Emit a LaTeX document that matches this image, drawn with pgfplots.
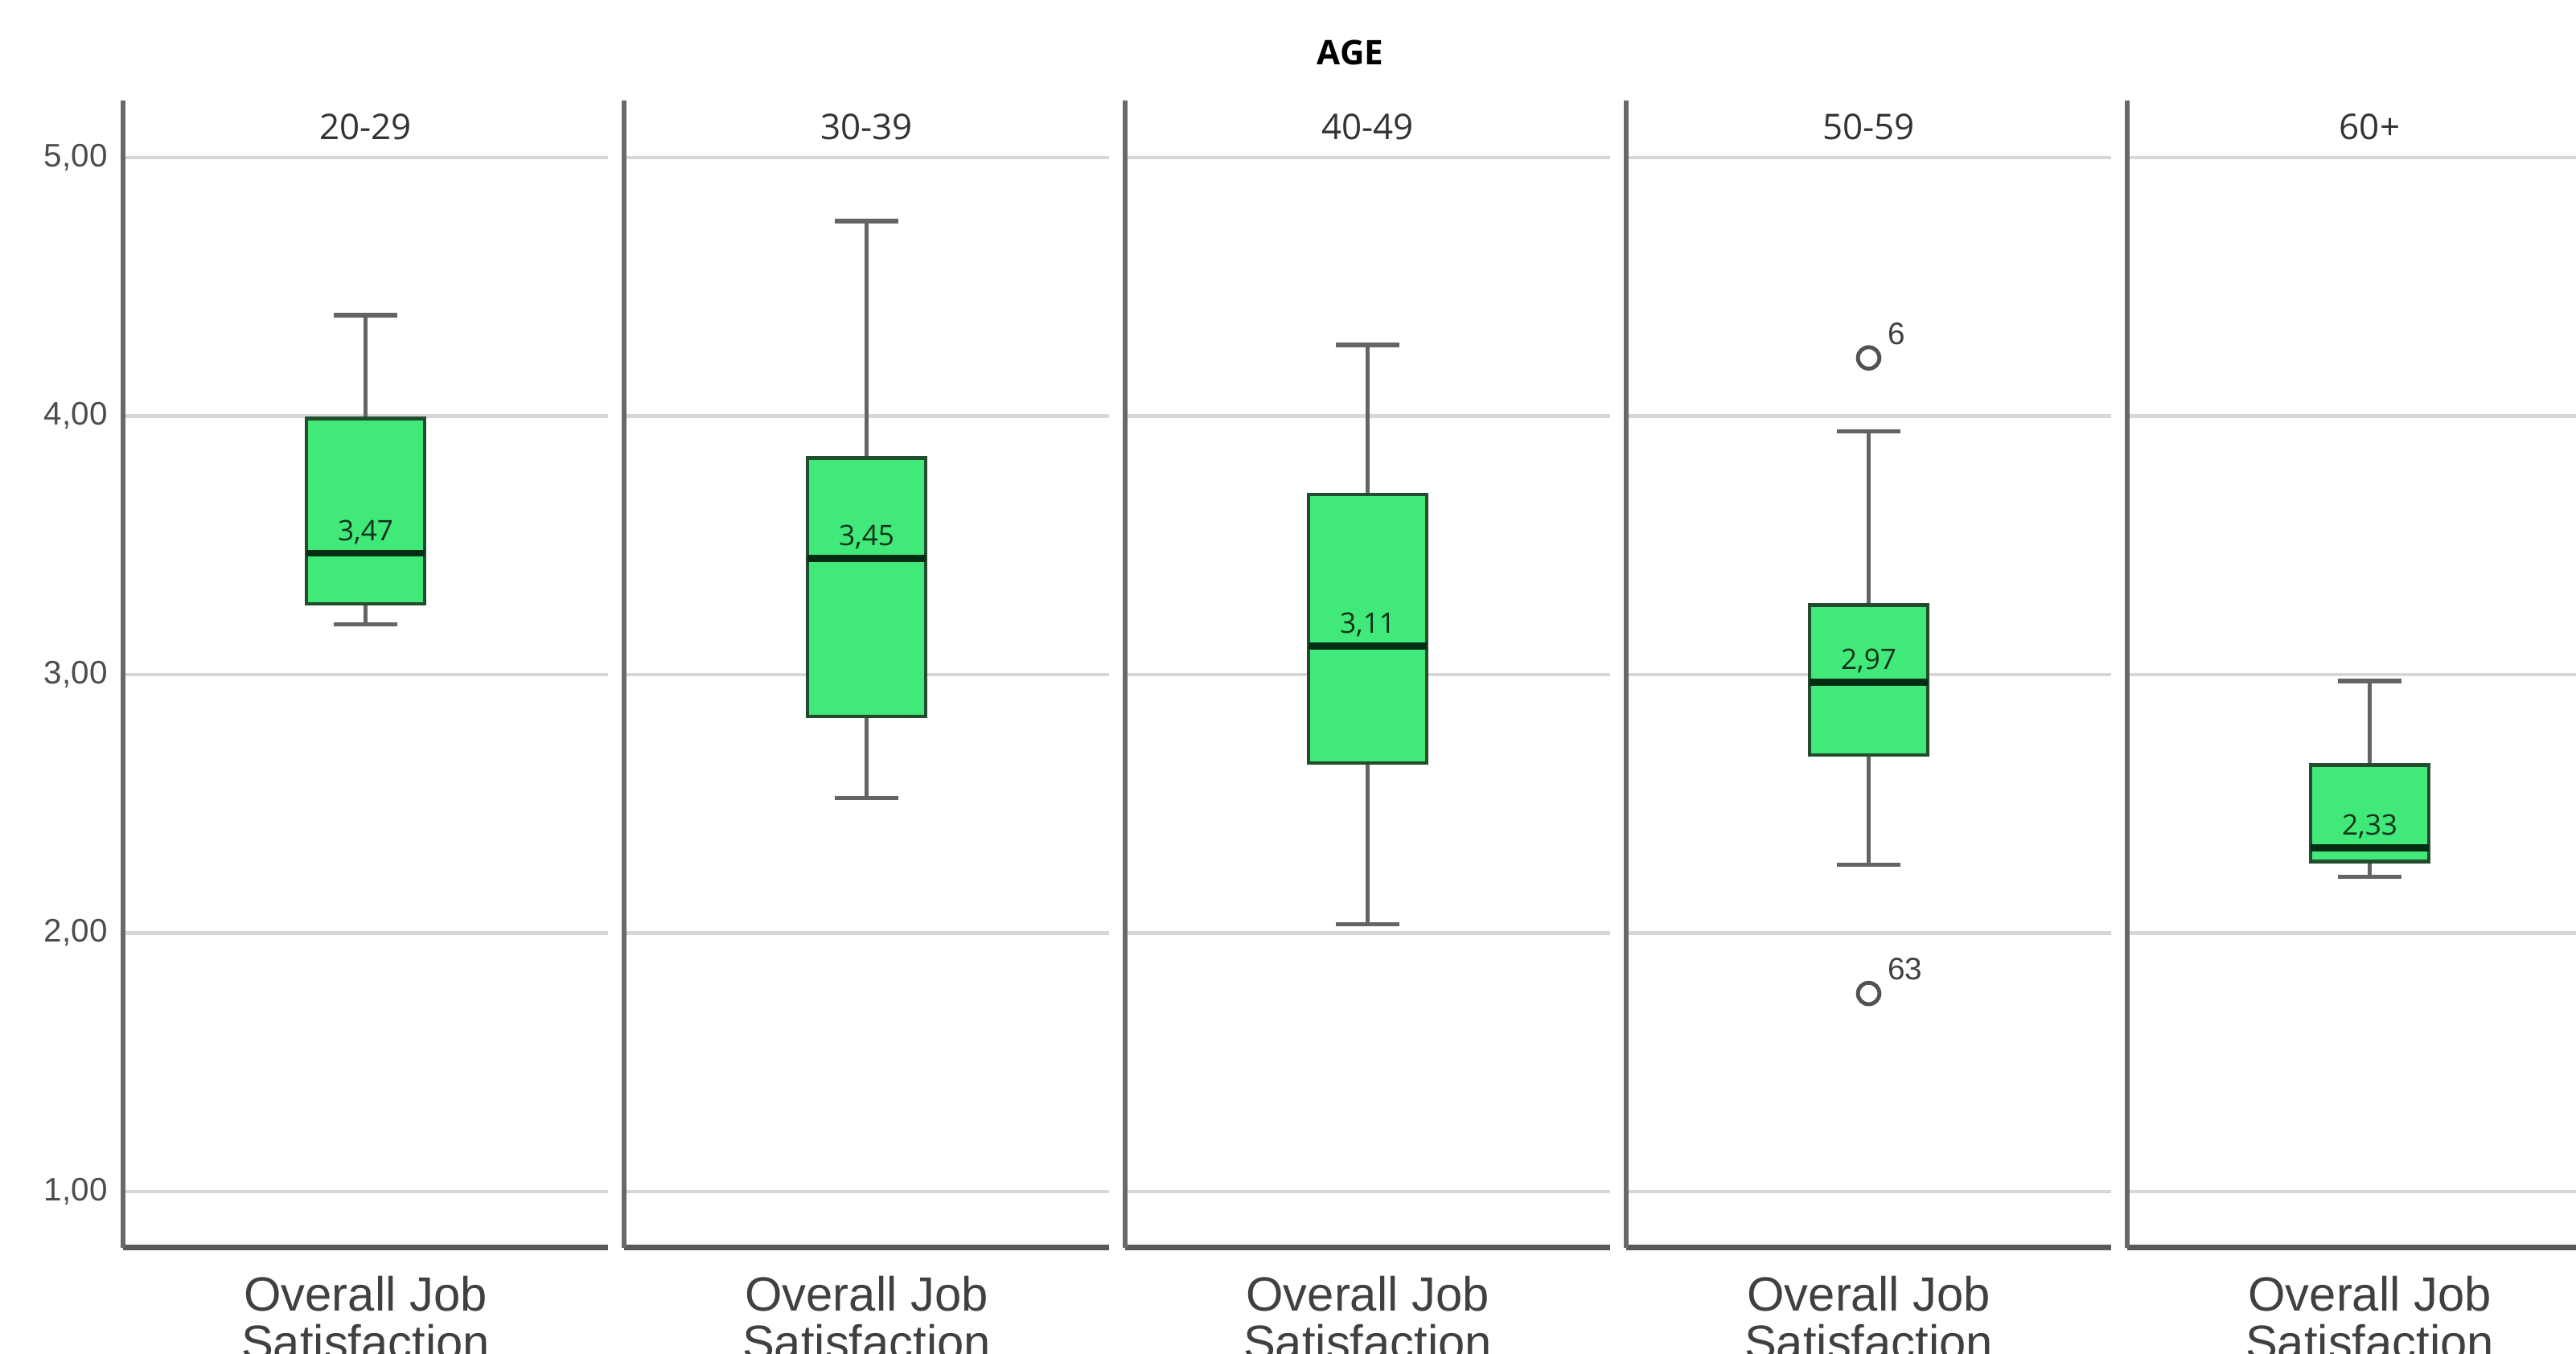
\documentclass[border=0pt]{standalone}
\usepackage{fontspec}
\setmainfont{Liberation Sans}
\newfontfamily\osans{Open Sans}
\usepackage{pgfplots}
\pgfplotsset{compat=1.18}
\usepgfplotslibrary{statistics}
\definecolor{boxgreen}{RGB}{65,232,122}
\definecolor{boxedge}{RGB}{35,75,45}
\definecolor{medcol}{RGB}{5,45,20}
\definecolor{whisk}{RGB}{100,100,100}
\definecolor{axcol}{RGB}{105,105,105}
\definecolor{gridcol}{RGB}{215,215,215}
\definecolor{medtext}{RGB}{15,50,25}
\tikzset{plab/.style={font=\osans\fontsize{12.5}{14}\selectfont, text=black!80}}
\pgfplotsset{
  panel/.style={
    scale only axis, width=6.03cm, height=14.27cm,
    xmin=0, xmax=1, ymin=0.782, ymax=5.221,
    axis x line*=bottom, axis y line*=left,
    x axis line style={-, draw=black!65, line width=2pt},
    y axis line style={-, draw=axcol, line width=1.7pt},
    xtick=\empty, ytick={1,2,3,4,5},
    major tick length=0pt,
    ymajorgrids, grid style={draw=gridcol, line width=1.2pt},
    yticklabels={},
    clip=false,
    boxplot/draw direction=y,
    boxplot/every box/.style={draw=boxedge, line width=1.3pt, fill=boxgreen},
    boxplot/every whisker/.style={draw=whisk, line width=1.5pt},
    boxplot/every median/.style={draw=medcol, line width=2.4pt},
    xlabel={Overall Job\\Satisfaction},
    xlabel style={at={(rel axis cs:0.5,0)}, anchor=north, yshift=-0.35cm, inner sep=0pt, align=center, font=\fontsize{17}{17}\selectfont, text=black!75},
  },
  medlab/.style={draw=none, nodes near coords, point meta=explicit symbolic,
    nodes near coords style={anchor=base, yshift=4.5pt, font=\osans\fontsize{10}{12}\selectfont, text=medtext}},
}
\begin{document}
\begin{tikzpicture}
\path[use as bounding box] (0,0) rectangle (32.03cm,16.84cm);
\node[font=\osans\bfseries\fontsize{12}{14}\selectfont] at (16.79cm,16.19cm) {AGE};
% Panel 1
\begin{axis}[panel, at={(1.53cm,1.32cm)}, anchor=south west,
  yticklabels={{1,00},{2,00},{3,00},{4,00},{5,00}},
  yticklabel style={font=\fontsize{11.5}{13}\selectfont, text=black!70, xshift=-2pt}]
\addplot[boxplot/draw direction=y, boxplot prepared={median=3.47, upper quartile=3.99, lower quartile=3.273, upper whisker=4.39, lower whisker=3.195, draw position=0.5, box extend=0.244, whisker extend=0.13}] coordinates {};
\addplot[medlab] coordinates {(0.5,3.47) [{3,47}]};
\node[plab] at (rel axis cs:0.5,0.977) {20-29};
\end{axis}
% Panel 2
\begin{axis}[panel, at={(7.76cm,1.32cm)}, anchor=south west]
\addplot[boxplot/draw direction=y, boxplot prepared={median=3.45, upper quartile=3.838, lower quartile=2.838, upper whisker=4.754, lower whisker=2.523, draw position=0.5, box extend=0.244, whisker extend=0.13}] coordinates {};
\addplot[medlab] coordinates {(0.5,3.45) [{3,45}]};
\node[plab] at (rel axis cs:0.5,0.977) {30-39};
\end{axis}
% Panel 3
\begin{axis}[panel, at={(13.99cm,1.32cm)}, anchor=south west]
\addplot[boxplot/draw direction=y, boxplot prepared={median=3.11, upper quartile=3.696, lower quartile=2.658, upper whisker=4.275, lower whisker=2.035, draw position=0.5, box extend=0.244, whisker extend=0.13}] coordinates {};
\addplot[medlab] coordinates {(0.5,3.11) [{3,11}]};
\node[plab] at (rel axis cs:0.5,0.977) {40-49};
\end{axis}
% Panel 4
\begin{axis}[panel, at={(20.22cm,1.32cm)}, anchor=south west]
\addplot[boxplot/draw direction=y, boxplot prepared={median=2.97, upper quartile=3.269, lower quartile=2.689, upper whisker=3.94, lower whisker=2.265, draw position=0.5, box extend=0.244, whisker extend=0.13}] coordinates {};
\addplot[medlab] coordinates {(0.5,2.97) [{2,97}]};
\addplot[only marks, mark=o, mark size=3.8pt, mark options={line width=1.4pt, draw=black!68},
  nodes near coords, point meta=explicit symbolic,
  nodes near coords style={anchor=south west, inner sep=0pt, xshift=6pt, yshift=4pt, font=\fontsize{11}{13}\selectfont, text=black!75}]
  coordinates {(0.5,4.225) [6] (0.5,1.766) [63]};
\node[plab] at (rel axis cs:0.5,0.977) {50-59};
\end{axis}
% Panel 5
\begin{axis}[panel, at={(26.45cm,1.32cm)}, anchor=south west]
\addplot[boxplot/draw direction=y, boxplot prepared={median=2.33, upper quartile=2.65, lower quartile=2.277, upper whisker=2.975, lower whisker=2.217, draw position=0.5, box extend=0.244, whisker extend=0.13}] coordinates {};
\addplot[medlab] coordinates {(0.5,2.33) [{2,33}]};
\node[plab] at (rel axis cs:0.5,0.977) {60+};
\end{axis}
\end{tikzpicture}
\end{document}
